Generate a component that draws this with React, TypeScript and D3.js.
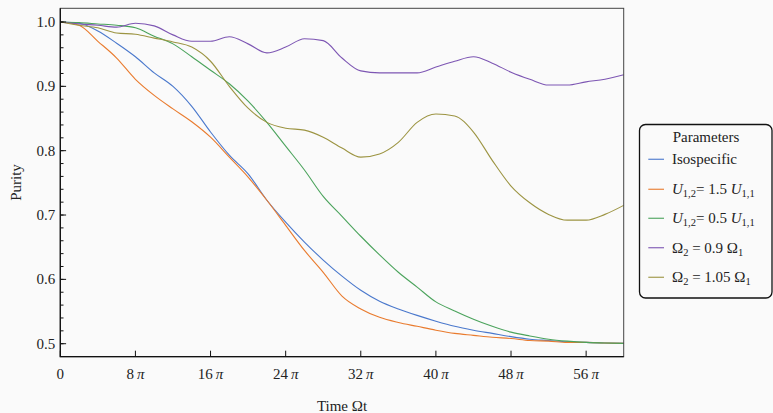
import { useEffect, useRef } from 'react';
import * as d3 from 'd3';

// time in units of pi
const times = [
  0, 2, 4, 6, 8, 10, 12, 14, 16, 18, 20, 22, 24, 26, 28, 30, 32, 34, 36, 38, 40,
  42, 44, 46, 48, 50, 52, 54, 56, 58, 60,
];

const isospecific = [
  1.0, 0.998, 0.986, 0.967, 0.946, 0.921, 0.9, 0.869, 0.829, 0.793, 0.764,
  0.723, 0.689, 0.658, 0.63, 0.605, 0.583, 0.566, 0.554, 0.544, 0.535, 0.527,
  0.521, 0.516, 0.511, 0.507, 0.505, 0.503, 0.502, 0.501, 0.5005,
];

const uHigh = [
  1.0, 0.995, 0.97, 0.944, 0.911, 0.886, 0.865, 0.845, 0.821, 0.79, 0.759,
  0.723, 0.684, 0.645, 0.611, 0.574, 0.554, 0.541, 0.533, 0.527, 0.521, 0.516,
  0.513, 0.51, 0.508, 0.505, 0.504, 0.502, 0.502, 0.501, 0.5005,
];

const uLow = [
  1.0, 0.999, 0.997, 0.995, 0.991, 0.978, 0.966, 0.946, 0.925, 0.904, 0.877,
  0.844, 0.807, 0.77, 0.729, 0.698, 0.667, 0.638, 0.611, 0.588, 0.565, 0.551,
  0.538, 0.527, 0.518, 0.512, 0.507, 0.504, 0.502, 0.501, 0.5005,
];

const omegaLow = [
  1.0, 0.997, 0.995, 0.992, 0.998, 0.994, 0.98, 0.97, 0.97, 0.977, 0.966,
  0.952, 0.961, 0.974, 0.971, 0.944, 0.924, 0.921, 0.921, 0.921, 0.93, 0.939,
  0.946, 0.936, 0.922, 0.911, 0.902, 0.902, 0.907, 0.911, 0.918,
];

const omegaHigh = [
  1.0, 0.995, 0.991, 0.983, 0.981, 0.975, 0.969, 0.961, 0.939, 0.9, 0.866,
  0.844, 0.835, 0.832, 0.821, 0.804, 0.79, 0.795, 0.813, 0.844, 0.857, 0.854,
  0.829, 0.785, 0.745, 0.719, 0.701, 0.692, 0.692, 0.701, 0.715,
];

const xTicks = [0, 8, 16, 24, 32, 40, 48, 56];
const yTicks = [0.5, 0.6, 0.7, 0.8, 0.9, 1.0];

const series = [
  { key: 'iso', values: isospecific, color: '#4a78cc' },
  { key: 'uhigh', values: uHigh, color: '#e97b2e' },
  { key: 'ulow', values: uLow, color: '#4ba35c' },
  { key: 'olow', values: omegaLow, color: '#7d56b3' },
  { key: 'ohigh', values: omegaHigh, color: '#9c9442' },
];

const FONT = '"Liberation Serif", "DejaVu Serif", serif';

const App = () => {
  const svgRef = useRef<SVGSVGElement>(null);

  useEffect(() => {
    const svg = d3.select(svgRef.current);
    svg.selectAll('*').remove();

    const width = 773;
    const height = 413;
    const margin = { top: 8.3, right: 149.3, bottom: 56.3, left: 60.3 };
    const innerW = width - margin.left - margin.right;
    const innerH = height - margin.top - margin.bottom;

    svg.append('rect').attr('width', width).attr('height', height).attr('fill', '#fafafa');

    const x = d3.scaleLinear().domain([0, 60]).range([0, innerW]);
    const y = d3.scaleLinear().domain([0.4798, 1.0213]).range([innerH, 0]);

    const g = svg.append('g').attr('transform', `translate(${margin.left},${margin.top})`);

    // lines
    series.forEach((s) => {
      const line = d3
        .line<number>()
        .x((_, i) => x(times[i]))
        .y((d) => y(d))
        .curve(d3.curveMonotoneX);
      g.append('path')
        .datum(s.values)
        .attr('d', line)
        .attr('fill', 'none')
        .attr('stroke', s.color)
        .attr('stroke-width', 1.1);
    });

    // frame
    g.append('rect')
      .attr('width', innerW)
      .attr('height', innerH)
      .attr('fill', 'none')
      .attr('stroke', '#444')
      .attr('stroke-width', 1);
    g.append('path')
      .attr('d', `M0,0V${innerH}H${innerW}`)
      .attr('fill', 'none')
      .attr('stroke', '#111')
      .attr('stroke-width', 1.3);

    // y axis, ticks point inward
    const yMinor = d3.range(0.5, 1.0001, 0.02);
    g.selectAll('.ymin')
      .data(yMinor)
      .enter()
      .append('line')
      .attr('x1', 0)
      .attr('x2', 3.2)
      .attr('y1', (d) => y(d))
      .attr('y2', (d) => y(d))
      .attr('stroke', '#111');
    g.selectAll('.ymaj')
      .data(yTicks)
      .enter()
      .append('line')
      .attr('x1', 0)
      .attr('x2', 5.8)
      .attr('y1', (d) => y(d))
      .attr('y2', (d) => y(d))
      .attr('stroke', '#111');
    g.selectAll('.ylab')
      .data(yTicks)
      .enter()
      .append('text')
      .attr('x', -5)
      .attr('y', (d) => y(d))
      .attr('dy', '0.34em')
      .attr('text-anchor', 'end')
      .attr('font-family', FONT)
      .attr('font-size', 15)
      .attr('fill', '#222')
      .text((d) => d3.format('.1f')(d));

    // x axis
    g.selectAll('.xmaj')
      .data(xTicks)
      .enter()
      .append('line')
      .attr('x1', (d) => x(d))
      .attr('x2', (d) => x(d))
      .attr('y1', innerH)
      .attr('y2', innerH - 6)
      .attr('stroke', '#111');
    const xl = g
      .selectAll('.xlab')
      .data(xTicks)
      .enter()
      .append('text')
      .attr('x', (d) => x(d))
      .attr('y', innerH + 22)
      .attr('text-anchor', 'middle')
      .attr('font-family', FONT)
      .attr('font-size', 15)
      .attr('fill', '#222');
    xl.each(function (d) {
      const t = d3.select(this);
      if (d === 0) {
        t.text('0');
        return;
      }
      t.append('tspan').text(`${d}\u2009`);
      t.append('tspan').attr('font-style', 'italic').text('π');
    });

    // axis titles
    svg
      .append('text')
      .attr('x', margin.left + innerW / 2)
      .attr('y', 411)
      .attr('text-anchor', 'middle')
      .attr('font-family', FONT)
      .attr('font-size', 15)
      .attr('fill', '#222')
      .text('Time Ωt');
    svg
      .append('text')
      .attr('transform', `translate(21,${margin.top + innerH / 2}) rotate(-90)`)
      .attr('text-anchor', 'middle')
      .attr('font-family', FONT)
      .attr('font-size', 15)
      .attr('fill', '#222')
      .text('Purity');

    // legend
    const lg = svg.append('g').attr('transform', 'translate(639,124)');
    lg.append('rect')
      .attr('x', 0.5)
      .attr('y', 0.5)
      .attr('width', 132.5)
      .attr('height', 173.5)
      .attr('rx', 6)
      .attr('fill', '#fafafa')
      .attr('stroke', '#111')
      .attr('stroke-width', 1.3);
    lg.append('text')
      .attr('x', 67)
      .attr('y', 17.5)
      .attr('text-anchor', 'middle')
      .attr('font-family', FONT)
      .attr('font-size', 15)
      .attr('fill', '#222')
      .text('Parameters');

    const rowY = [35.3, 65.3, 94.3, 123.7, 153.3];
    series.forEach((s, i) => {
      const ry = rowY[i];
      lg.append('line')
        .attr('x1', 9.3)
        .attr('x2', 25)
        .attr('y1', ry)
        .attr('y2', ry)
        .attr('stroke', s.color)
        .attr('stroke-opacity', 0.85)
        .attr('stroke-width', 1.3);
      const t = lg
        .append('text')
        .attr('x', 33)
        .attr('y', ry + 5)
        .attr('font-family', FONT)
        .attr('font-size', 15)
        .attr('fill', '#222');
      const sub = (txt: string) =>
        t.append('tspan').attr('font-size', 10.5).attr('dy', 3).text(txt);
      const up = () => t.append('tspan').attr('dy', -3);
      if (s.key === 'iso') {
        t.text('Isospecific');
      } else if (s.key === 'uhigh' || s.key === 'ulow') {
        t.append('tspan').attr('font-style', 'italic').text('U');
        sub('1,2');
        up().text(s.key === 'uhigh' ? '= 1.5 ' : '= 0.5 ');
        t.append('tspan').attr('font-style', 'italic').text('U');
        sub('1,1');
      } else {
        t.append('tspan').text('Ω');
        sub('2');
        up().text(s.key === 'olow' ? ' = 0.9 Ω' : ' = 1.05 Ω');
        sub('1');
      }
    });
  }, []);

  return (
    <svg
      ref={svgRef}
      width={773}
      height={413}
      style={{ position: 'absolute', left: 0, top: 0 }}
    />
  );
};

export default App;
